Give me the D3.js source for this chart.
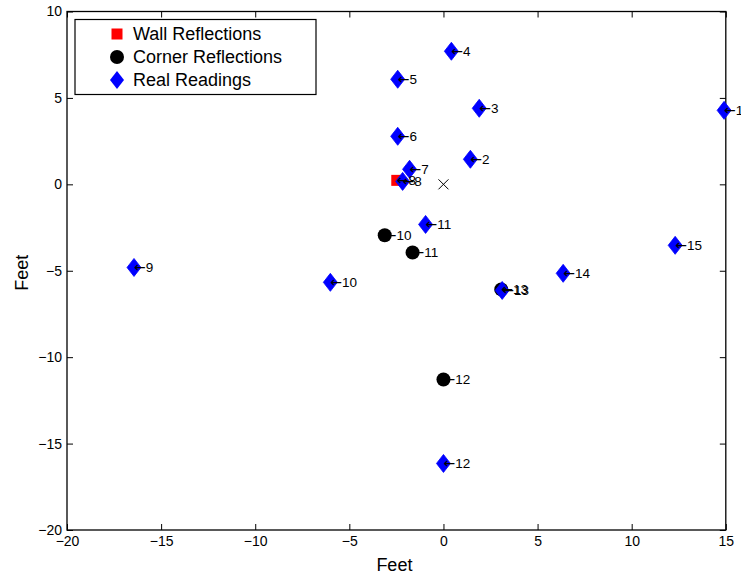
<!DOCTYPE html>
<html>
<head>
<meta charset="utf-8">
<script src="https://cdn.jsdelivr.net/npm/d3@7"></script>
<style>
  html, body { margin: 0; padding: 0; background: #fff; }
  svg { display: block; font-family: "Liberation Sans", Arial, Helvetica, sans-serif; }
</style>
</head>
<body>
<svg id="chart" width="741" height="576"></svg>
<script>
// Reflection points measured around the sensor origin (feet)
const wallX = [-2.48];
const wallY = [0.23];
const wallLabels = ["8"];

const cornerX = [-3.12, -1.64, 0.0, 3.07];
const cornerY = [-2.95, -3.94, -11.29, -6.08];
const cornerLabels = ["10", "11", "12", "13"];

const readX = [14.91, 1.43, 1.90, 0.42, -2.43, -2.43, -1.80, -2.17, -16.44, -6.01, -0.95, 0.0, 3.12, 6.36, 12.31];
const readY = [4.28, 1.45, 4.40, 7.70, 6.08, 2.78, 0.87, 0.17, -4.81, -5.67, -2.32, -16.15, -6.14, -5.15, -3.53];
const readLabels = ["1", "2", "3", "4", "5", "6", "7", "8", "9", "10", "11", "12", "13", "14", "15"];

const xTicks = [-20, -15, -10, -5, 0, 5, 10, 15];
const yTicks = [-20, -15, -10, -5, 0, 5, 10];
const legendNames = ["Wall Reflections", "Corner Reflections", "Real Readings"];

const svg = d3.select("#chart");
const plotLeft = 67, plotRight = 725.8, plotTop = 11.5, plotBottom = 530;

const x = d3.scaleLinear().domain([-20, 15]).range([plotLeft, plotRight]);
const y = d3.scaleLinear().domain([-20, 10]).range([plotBottom, plotTop]);

const fmt = d3.format("");

// Axes with inward ticks on all four sides
const tick = 6;
svg.append("g").attr("transform", `translate(0,${plotBottom})`)
  .call(d3.axisBottom(x).tickValues(xTicks).tickSize(-tick).tickPadding(6).tickFormat(fmt))
  .call(g => g.select(".domain").remove());
svg.append("g").attr("transform", `translate(0,${plotTop})`)
  .call(d3.axisTop(x).tickValues(xTicks).tickSize(-tick).tickFormat(""))
  .call(g => g.select(".domain").remove());
svg.append("g").attr("transform", `translate(${plotLeft},0)`)
  .call(d3.axisLeft(y).tickValues(yTicks).tickSize(-tick).tickPadding(5).tickFormat(fmt))
  .call(g => g.select(".domain").remove());
svg.append("g").attr("transform", `translate(${plotRight},0)`)
  .call(d3.axisRight(y).tickValues(yTicks).tickSize(-tick).tickFormat(""))
  .call(g => g.select(".domain").remove());

svg.selectAll(".tick text").attr("font-size", 14).attr("fill", "#000")
  .attr("font-family", "'Liberation Sans', Arial, sans-serif");
svg.selectAll(".tick line").attr("stroke", "#000");

svg.append("rect")
  .attr("x", plotLeft).attr("y", plotTop)
  .attr("width", plotRight - plotLeft).attr("height", plotBottom - plotTop)
  .attr("fill", "none").attr("stroke", "#000").attr("stroke-width", 1.3);

// Axis titles
svg.append("text").attr("x", (plotLeft + plotRight) / 2 - 2).attr("y", 571)
  .attr("text-anchor", "middle").attr("font-size", 18).text("Feet");
svg.append("text")
  .attr("transform", `translate(28,${(plotTop + plotBottom) / 2 + 2}) rotate(-90)`)
  .attr("text-anchor", "middle").attr("font-size", 18).text("Feet");

// Sensor origin
const cx = x(0), cy = y(0), cs = 5;
svg.append("path")
  .attr("d", `M${cx - cs},${cy - cs}L${cx + cs},${cy + cs}M${cx - cs},${cy + cs}L${cx + cs},${cy - cs}`)
  .attr("stroke", "#000").attr("stroke-width", 1);

const diamond = (px, py) => `M${px},${py - 9}L${px + 7},${py}L${px},${py + 9}L${px - 7},${py}Z`;

// Wall reflections
svg.append("g").selectAll("rect").data(wallX.map((d, i) => [d, wallY[i]]))
  .join("rect")
  .attr("x", d => x(d[0]) - 5.5).attr("y", d => y(d[1]) - 5.5)
  .attr("width", 11).attr("height", 11)
  .attr("fill", "#ff0000");

// Corner reflections
svg.append("g").selectAll("circle").data(cornerX.map((d, i) => [d, cornerY[i]]))
  .join("circle")
  .attr("cx", d => x(d[0])).attr("cy", d => y(d[1])).attr("r", 7)
  .attr("fill", "#000");

// Real readings
svg.append("g").selectAll("path").data(readX.map((d, i) => [d, readY[i]]))
  .join("path")
  .attr("d", d => diamond(x(d[0]), y(d[1])))
  .attr("fill", "#0000ff").attr("stroke", "#0000ff").attr("stroke-width", 0.8);

// Point labels with arrows pointing back to each mark
function labels(xs, ys, names) {
  const g = svg.append("g");
  xs.forEach((d, i) => {
    const t = g.append("text")
      .attr("x", x(d)).attr("y", y(ys[i]))
      .attr("dy", "0.35em").attr("font-size", 13.5).attr("fill", "#000");
    t.append("tspan").attr("font-family", "'DejaVu Sans', sans-serif").attr("font-size", 14).text("\u2190");
    t.append("tspan").text(names[i]);
  });
}
labels(wallX, wallY, wallLabels);
labels(cornerX, cornerY, cornerLabels);
labels(readX, readY, readLabels);

// Legend
const lg = svg.append("g");
lg.append("rect").attr("x", 75).attr("y", 19.5).attr("width", 241).attr("height", 75)
  .attr("fill", "#fff").attr("stroke", "#000").attr("stroke-width", 1.2);
const rowY = [34, 57, 80];
lg.append("rect").attr("x", 117 - 5.5).attr("y", rowY[0] - 5.5).attr("width", 11).attr("height", 11).attr("fill", "#ff0000");
lg.append("circle").attr("cx", 117).attr("cy", rowY[1]).attr("r", 7).attr("fill", "#000");
lg.append("path").attr("d", diamond(117, rowY[2])).attr("fill", "#0000ff");
legendNames.forEach((n, i) => {
  lg.append("text").attr("x", 133).attr("y", rowY[i]).attr("dy", "0.36em")
    .attr("font-size", 18).text(n);
});
</script>
</body>
</html>
